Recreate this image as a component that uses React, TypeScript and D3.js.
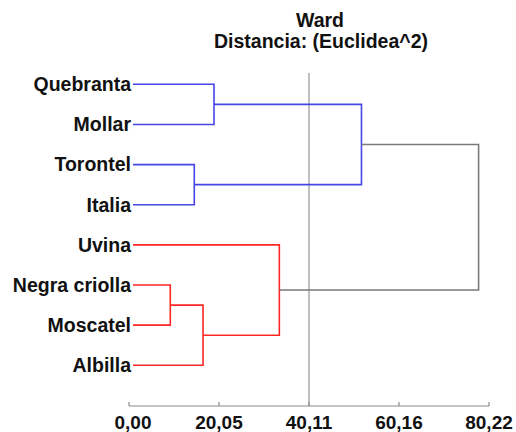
import React from 'react'
import * as d3 from 'd3'

const title = ['Ward', 'Distancia: (Euclidea^2)']
const leaves = ['Quebranta', 'Mollar', 'Torontel', 'Italia', 'Uvina', 'Negra criolla', 'Moscatel', 'Albilla']
// hclust-style merges: negative = leaf (1-based), positive = earlier merge (1-based)
const mergeLeft = [-6, -3, 1, -1, -5, 4, 6]
const mergeRight = [-7, -4, -8, -2, 3, 2, 5]
const mergeHeight = [9.2, 14.55, 16.5, 18.94, 33.5, 51.8, 77.9]
const mergeGroup = ['red', 'blue', 'red', 'blue', 'red', 'blue', 'root']
const tickValues = [0, 20.05, 40.11, 60.16, 80.22]
const cutHeight = 40.11

const colors: Record<string, string> = { red: '#ff2626', blue: '#4646e6', root: '#7a7a7a' }
const font = 'Arial, "Liberation Sans", sans-serif'

export default function App() {
  const x = d3.scaleLinear().domain([0, 80.22]).range([129, 489])
  const y = d3.scalePoint<string>().domain(leaves).range([84.3, 365.3])
  const axisY = 406
  const leafStart = 133

  // position of each node
  const nodeX = (id: number) => (id < 0 ? leafStart : x(mergeHeight[id - 1]))
  const nodeYCache: Record<number, number> = {}
  const nodeY = (id: number): number => {
    if (id < 0) return y(leaves[-id - 1]) as number
    if (nodeYCache[id] != null) return nodeYCache[id]
    const v = (nodeY(mergeLeft[id - 1]) + nodeY(mergeRight[id - 1])) / 2
    nodeYCache[id] = v
    return v
  }

  const paths = mergeHeight.map((h, i) => {
    const a = mergeLeft[i], b = mergeRight[i]
    const xm = x(h)
    const p = d3.path()
    p.moveTo(nodeX(a), nodeY(a))
    p.lineTo(xm, nodeY(a))
    p.lineTo(xm, nodeY(b))
    p.lineTo(nodeX(b), nodeY(b))
    return { d: p.toString(), color: colors[mergeGroup[i]] }
  })

  const fmt = (v: number) => d3.format('.2f')(v).replace('.', ',')

  return (
    <svg width={516} height={432} style={{ position: 'absolute', left: 0, top: 0, background: '#fff' }}>
      <g fontFamily={font} fontWeight="bold" fontSize={19.5} fill="#111" textAnchor="middle">
        <text x={320} y={27}>{title[0]}</text>
        <text x={321} y={48}>{title[1]}</text>
      </g>

      {/* cut line */}
      <line x1={x(cutHeight)} x2={x(cutHeight)} y1={73} y2={axisY} stroke="#808080" strokeWidth={1} />

      {paths.map((p, i) => (
        <path key={i} d={p.d} fill="none" stroke={p.color} strokeWidth={1.6} />
      ))}

      <g fontFamily={font} fontWeight="bold" fontSize={19.5} fill="#111" textAnchor="end">
        {leaves.map(l => (
          <text key={l} x={131} y={y(l)} dy="0.35em">{l}</text>
        ))}
      </g>

      {/* axis */}
      <g stroke="#8a8a8a" strokeWidth={1.2}>
        <line x1={x(0)} x2={x(80.22)} y1={axisY} y2={axisY} />
        {tickValues.map(t => (
          <line key={t} x1={x(t)} x2={x(t)} y1={axisY - 4} y2={axisY} />
        ))}
      </g>
      <g fontFamily={font} fontWeight="bold" fontSize={19} fill="#111" textAnchor="middle">
        {tickValues.map(t => (
          <text key={t} x={x(t) + (t === 0 ? 4 : 0)} y={429}>{fmt(t)}</text>
        ))}
      </g>
    </svg>
  )
}
